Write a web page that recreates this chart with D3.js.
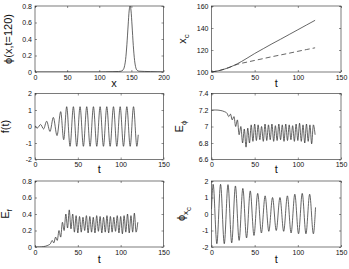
<!DOCTYPE html>
<html>
<head>
<meta charset="utf-8">
<script src="https://cdn.jsdelivr.net/npm/d3@7"></script>
<style>
body{margin:0;background:#fff}
svg{display:block;font-family:"Liberation Sans",Arial,sans-serif}
</style>
</head>
<body>
<svg></svg>
<script>
const width = 349;
const height = 269;

// panel 1: phi(x, t=120)
const phiX = [0,100,110,120,130,134,137,139,141,143,145,146.5,148,149.5,151,153,155,157,159,162,170,180,190,200];
const phiY = [0,0,0.003,0.004,0.006,0.01,0.025,0.06,0.15,0.33,0.57,0.74,0.8,0.74,0.57,0.32,0.14,0.05,0.02,0.01,0.007,0.005,0.003,0.001];

// panel 2: x_c(t)
const xcT = [0,10,20,30,40,50,60,70,80,90,100,110,120];
const xcSolid = [100,101.5,104,107.5,112,116.8,121.2,125.6,129.8,134.1,138.4,142.7,147];
const xcDashed = [100,101.5,104,107,108.8,110.5,112.2,113.9,115.5,117.1,118.8,120.4,122];

// panel 3: f(t), turning points
const fT = [0,2.5,6.6,10,13.6,17.5,21.4,25.7,30,33.5,37,40.9,44.8,48.7,52.6,56.5,60.4,64.3,68.2,72.1,76,79.9,83.8,87.7,91.6,95.5,99.4,103.3,107.2,111.1,115,118.9,120.5];
const fV = [0.05,-0.1,0.12,-0.15,0.32,-0.3,0.55,-0.55,0.9,-0.8,1.2,-1.2,1.2,-1.2,1.2,-1.2,1.2,-1.2,1.2,-1.2,1.2,-1.2,1.2,-1.2,1.2,-1.2,1.2,-1.2,1.2,-1.2,1.2,-1.2,-0.5];

// panel 4: E_phi(t)
const ePhiT = [0,5,10,15,18,20,22,24,26,28,30,32,34,36,38,40,42,44,46,48,50,52,54,56,58,60,62,64,66,68,70,72,74,76,78,80,82,84,86,88,90,92,94,96,98,100,102,104,106,108,110,112,114,116,118,120];
const ePhiV = [7.2,7.2,7.195,7.18,7.16,7.12,7.15,7.08,7.12,7.0,7.08,6.9,7.0,6.8,6.97,6.75,6.98,6.8,7.02,6.82,7.03,6.83,7.02,6.84,7.0,6.82,7.03,6.83,7.02,6.84,7.03,6.82,7.01,6.83,7.03,6.84,7.02,6.82,7.03,6.83,7.02,6.84,7.01,6.82,7.03,6.83,7.04,6.82,7.02,6.8,7.03,6.82,7.02,6.79,7.02,6.9];

// panel 5: E_f(t)
const eFT = ePhiT;
const eFV = [0,0,0.005,0.02,0.04,0.08,0.05,0.12,0.08,0.2,0.12,0.3,0.2,0.4,0.23,0.45,0.22,0.4,0.18,0.38,0.17,0.37,0.18,0.36,0.2,0.38,0.17,0.37,0.18,0.36,0.17,0.38,0.19,0.37,0.17,0.36,0.18,0.38,0.17,0.37,0.18,0.36,0.19,0.38,0.17,0.37,0.16,0.38,0.18,0.4,0.17,0.38,0.18,0.41,0.18,0.3];

// panel 6: phi_{x_c}(t), turning points
const pxT = [0,1.9,6.2,10.5,14.8,19.1,23.4,27.7,32,36.3,40.6,44.9,49.2,53.5,57.8,62.1,66.4,70.7,75,79.3,83.6,87.9,92.2,96.5,100.8,105.1,109.4,113.7,118,120.5];
const pxV = [0.3,1.8,-1.8,1.8,-1.8,1.78,-1.75,1.7,-1.6,1.55,-1.45,1.4,-1.3,1.25,-1.15,1.1,-1.05,1.0,-1.0,1.0,-1.05,1.1,-1.15,1.2,-1.2,1.25,-1.2,1.2,-1.2,0.4];

// tick values
const ticks01 = [0,0.2,0.4,0.6,0.8];
const ticksX200 = [0,50,100,150,200];
const ticksT = [0,50,100,150];
const ticksXc = [100,120,140,160];
const ticks2 = [-2,-1,0,1,2];
const ticksE = [6.6,6.8,7,7.2,7.4];

const zip = (a, b) => a.map((v, i) => [v, b[i]]);

const svg = d3.select('svg').attr('width', width).attr('height', height);

const cols = [[35, 163.5], [211.5, 341]];
const rows = [[6, 72], [93.5, 159.5], [181, 247]];

const panels = [
  {col: 0, row: 0, xd: [0, 200], yd: [0, 0.8], xt: ticksX200, yt: ticks01, xlab: 'x', xlx: 114, xly: 87,
   ylab: [['ϕ(x,t=120)', 0]], lx: 12,
   series: [{data: zip(phiX, phiY), curve: d3.curveMonotoneX}]},
  {col: 1, row: 0, xd: [0, 150], yd: [100, 160], xt: ticksT, yt: ticksXc, xlab: 't', xly: 87,
   ylab: [['x', 0], ['c', 1]], lx: 186,
   series: [{data: zip(xcT, xcSolid), curve: d3.curveMonotoneX},
            {data: zip(xcT, xcDashed), curve: d3.curveMonotoneX, dash: '5,3'}]},
  {col: 0, row: 1, xd: [0, 150], yd: [-2, 2], xt: ticksT, yt: ticks2, xlab: 't', xly: 173,
   ylab: [['f(t)', 0]], lx: 9,
   series: [{data: zip(fT, fV), curve: d3.curveMonotoneX}]},
  {col: 1, row: 1, xd: [0, 150], yd: [6.6, 7.4], xt: ticksT, yt: ticksE, xlab: 't', xly: 173,
   ylab: [['E', 0], ['ϕ', 1]], lx: 183,
   series: [{data: zip(ePhiT, ePhiV), curve: d3.curveMonotoneX}]},
  {col: 0, row: 2, xd: [0, 150], yd: [0, 0.8], xt: ticksT, yt: ticks01, xlab: 't', xly: 263,
   ylab: [['E', 0], ['f', 1]], lx: 9,
   series: [{data: zip(eFT, eFV), curve: d3.curveMonotoneX}]},
  {col: 1, row: 2, xd: [0, 150], yd: [-2, 2], xt: ticksT, yt: ticks2, xlab: 't', xly: 263,
   ylab: [['ϕ', 0], ['x', 1], ['c', 2]], lx: 185,
   series: [{data: zip(pxT, pxV), curve: d3.curveMonotoneX}]}
];

const fmt = d => String(d);

panels.forEach((p, i) => {
  const [x0, x1] = cols[p.col];
  const [y0, y1] = rows[p.row];
  const w = x1 - x0, h = y1 - y0;
  const g = svg.append('g').attr('transform', `translate(${x0},${y0})`);
  const x = d3.scaleLinear().domain(p.xd).range([0, w]);
  const y = d3.scaleLinear().domain(p.yd).range([h, 0]);

  g.append('clipPath').attr('id', 'clip' + i)
   .append('rect').attr('width', w).attr('height', h);

  p.series.forEach(s => {
    g.append('path')
     .datum(s.data)
     .attr('clip-path', `url(#clip${i})`)
     .attr('fill', 'none')
     .attr('stroke', '#333')
     .attr('stroke-width', 0.75)
     .attr('stroke-dasharray', s.dash || null)
     .attr('d', d3.line().x(d => x(d[0])).y(d => y(d[1])).curve(s.curve));
  });

  const style = a => {
    a.select('.domain').remove();
    a.selectAll('line').attr('stroke', '#222').attr('stroke-width', 0.5);
    a.selectAll('text').attr('font-size', 7).attr('fill', '#111')
     .attr('font-family', '"Liberation Sans",Arial,sans-serif');
  };

  g.append('g').attr('transform', `translate(0,${h})`)
   .call(d3.axisBottom(x).tickValues(p.xt).tickFormat(fmt).tickSize(-2).tickPadding(3))
   .call(style);
  g.append('g')
   .call(d3.axisTop(x).tickValues(p.xt).tickFormat('').tickSize(-2))
   .call(style);
  g.append('g')
   .call(d3.axisLeft(y).tickValues(p.yt).tickFormat(fmt).tickSize(-2).tickPadding(3))
   .call(style);
  g.append('g').attr('transform', `translate(${w},0)`)
   .call(d3.axisRight(y).tickValues(p.yt).tickFormat('').tickSize(-2))
   .call(style);

  g.append('rect').attr('width', w).attr('height', h)
   .attr('fill', 'none').attr('stroke', '#222').attr('stroke-width', 0.6);

  // axis labels
  svg.append('text')
     .attr('x', p.xlx || (x0 + w / 2)).attr('y', p.xly)
     .attr('text-anchor', 'middle').attr('font-size', 11).attr('fill', '#111')
     .text(p.xlab);

  const yl = svg.append('text')
     .attr('transform', `translate(${p.lx},${y0 + h / 2}) rotate(-90)`)
     .attr('text-anchor', 'middle').attr('font-size', 11).attr('fill', '#111');
  let level = 0;
  p.ylab.forEach(([t, lv]) => {
    const sp = yl.append('tspan').text(t).attr('font-size', lv ? 8 : 11);
    if (lv !== level) sp.attr('dy', (lv - level) * 3);
    level = lv;
  });
});
</script>
</body>
</html>
